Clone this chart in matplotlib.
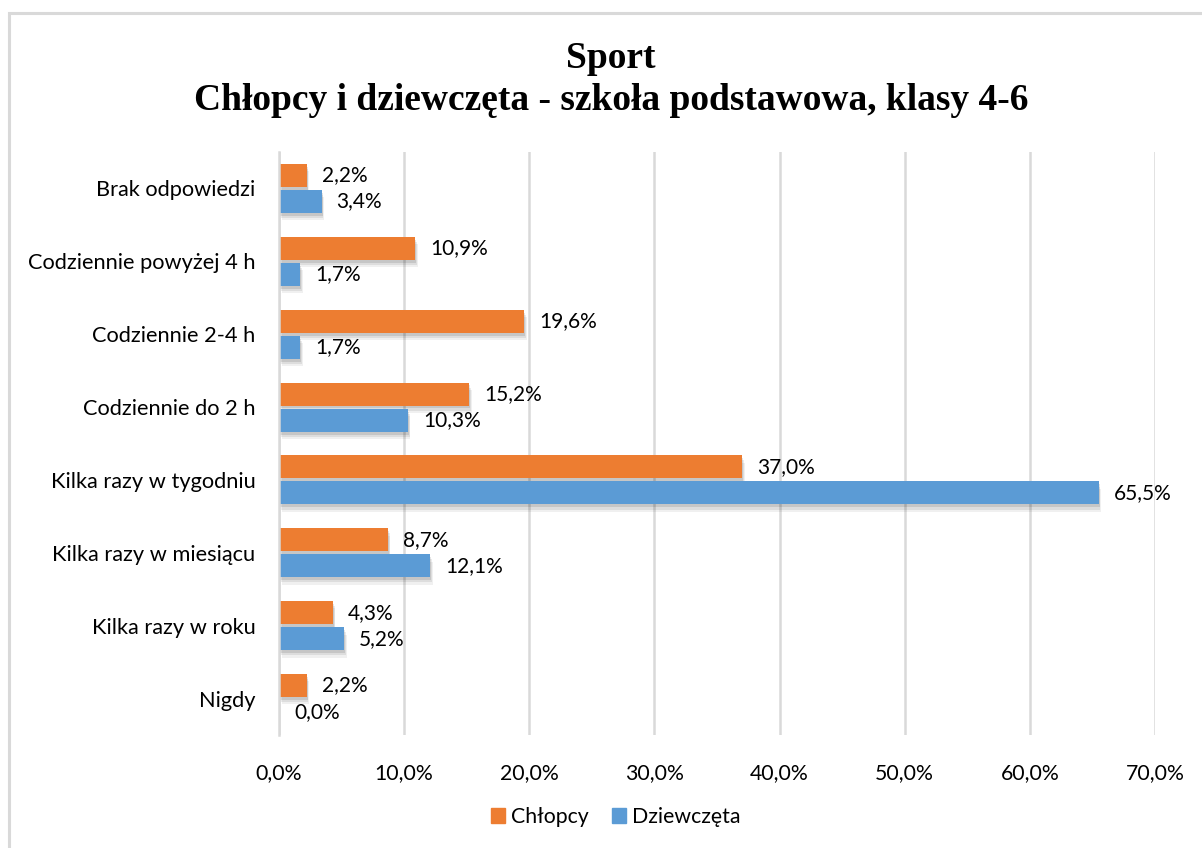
import matplotlib
matplotlib.use("Agg")
import matplotlib.pyplot as plt
import matplotlib.patches as mpatches
import numpy as np

# Data (top-to-bottom order as in chart)
categories = ["Brak odpowiedzi", "Codziennie powyżej 4 h", "Codziennie 2-4 h",
              "Codziennie do 2 h", "Kilka razy w tygodniu", "Kilka razy w miesiącu",
              "Kilka razy w roku", "Nigdy"]
chlopcy = [2.2, 10.9, 19.6, 15.2, 37.0, 8.7, 4.3, 2.2]
dziewczeta = [3.4, 1.7, 1.7, 10.3, 65.5, 12.1, 5.2, 0.0]
xticks = [0, 10, 20, 30, 40, 50, 60, 70]

ORANGE = "#ED7D31"
BLUE = "#5B9BD5"
GRID = "#D9D9D9"
FONT = "Lato"

fig = plt.figure(figsize=(12.02, 8.48), dpi=100)
fig.patch.set_facecolor("white")

# outer chart border
fig.patches.append(mpatches.Rectangle((9 / 1202, -0.1), 1.2, 1 - 13 / 848 + 0.1,
                                      transform=fig.transFigure, fill=False,
                                      edgecolor="#D9D9D9", linewidth=2.2, zorder=0))

ax = fig.add_axes([279 / 1202, 1 - 735 / 848, 876 / 1202, 583 / 848])

n = len(categories)
y = np.arange(n)[::-1]
h = 0.316
off = 0.179

# soft drop shadow under the bars
for k, a in [(0.10, 0.06), (0.07, 0.08), (0.04, 0.10)]:
    for yy, v in zip(y + off, chlopcy):
        ax.barh(yy - k, v, height=h, left=k * 2.0, color="#000000", alpha=a,
                zorder=1, linewidth=0)
    for yy, v in zip(y - off, dziewczeta):
        if v > 0:
            ax.barh(yy - k, v, height=h, left=k * 2.0, color="#000000", alpha=a,
                    zorder=1, linewidth=0)

ax.barh(y + off, chlopcy, height=h, color=ORANGE, zorder=2, linewidth=0)
ax.barh(y - off, dziewczeta, height=h, color=BLUE, zorder=2, linewidth=0)

for yy, v in zip(y + off, chlopcy):
    ax.annotate(f"{v:.1f}%".replace(".", ","), (v, yy), xytext=(15, 0),
                textcoords="offset pixels", va="center", ha="left",
                fontsize=15, family=FONT, color="#000000")
for yy, v in zip(y - off, dziewczeta):
    ax.annotate(f"{v:.1f}%".replace(".", ","), (v, yy), xytext=(15, 0),
                textcoords="offset pixels", va="center", ha="left",
                fontsize=15, family=FONT, color="#000000")

ax.set_xlim(0, 70)
ax.set_ylim(-0.5, n - 0.5)
ax.set_xticks(xticks)
ax.set_xticklabels([f"{t:.1f}%".replace(".", ",") for t in xticks], fontsize=15.3, family=FONT)
ax.set_yticks(y)
ax.set_yticklabels(categories, fontsize=15.7, family=FONT)
ax.tick_params(axis="both", length=0)
ax.tick_params(axis="x", pad=20)
ax.tick_params(axis="y", pad=17)
ax.xaxis.grid(True, color=GRID, linewidth=1.8, zorder=0)
ax.set_axisbelow(True)
for s in ["top", "right", "bottom"]:
    ax.spines[s].set_visible(False)
ax.spines["left"].set_color(GRID)
ax.spines["left"].set_linewidth(1.8)

cx = 611 / 1202
fig.text(cx, 1 - 58 / 848, "Sport", ha="center", va="center",
         fontsize=27, fontweight="bold", family="Liberation Serif")
fig.text(cx, 1 - 101 / 848, "Chłopcy i dziewczęta - szkoła podstawowa, klasy 4-6",
         ha="center", va="center", fontsize=27, fontweight="bold", family="Liberation Serif")

handles = [mpatches.Patch(color=ORANGE, label="Chłopcy"),
           mpatches.Patch(color=BLUE, label="Dziewczęta")]
fig.legend(handles=handles, loc="center", bbox_to_anchor=(616 / 1202, 1 - 817 / 848), ncol=2,
           frameon=False, prop={"family": FONT, "size": 15.3}, handlelength=0.65,
           handleheight=0.65, handletextpad=0.3, columnspacing=1.1)

fig.savefig("out.png", dpi=100)
